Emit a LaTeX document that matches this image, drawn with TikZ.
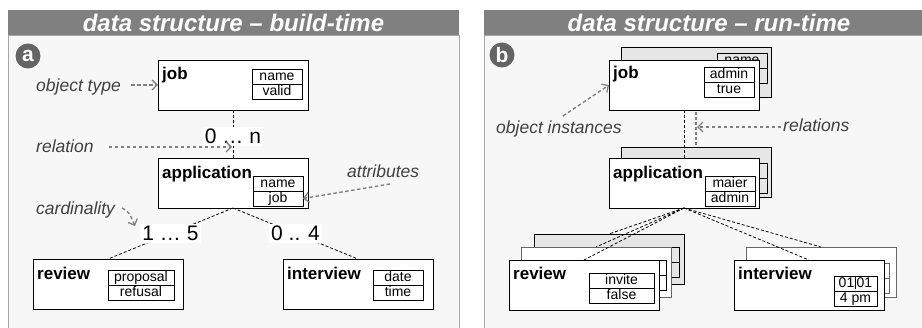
\documentclass[tikz,border=0pt]{standalone}
\usepackage{fontspec}
\setmainfont{Liberation Sans}
\usetikzlibrary{arrows.meta}
\definecolor{hdr}{RGB}{128,128,128}
\definecolor{panelbg}{RGB}{247,247,247}
\definecolor{panelline}{RGB}{166,166,166}
\definecolor{backfill}{RGB}{230,230,230}
\definecolor{notegray}{RGB}{128,128,128}
\definecolor{notetext}{RGB}{64,64,64}
\definecolor{badgecol}{RGB}{100,100,100}
\begin{document}
\begin{tikzpicture}[x=1pt,y=-1pt,
  panel/.style={draw=panelline, line width=0.8pt, fill=panelbg},
  header/.style={fill=hdr},
  headtext/.style={text=white, inner sep=0pt, font=\fontsize{24}{24}\selectfont\bfseries\itshape},
  badge/.style={circle, fill=badgecol, minimum size=25pt, inner sep=0pt, text=white, font=\fontsize{21}{21}\selectfont\bfseries},
  objbox/.style={draw=black, line width=0.8pt, fill=white, minimum width=150pt, minimum height=50pt, anchor=north west, inner sep=0pt, outer sep=0pt},
  backbox/.style={objbox, fill=backfill},
  midbox/.style={objbox, draw=black!60},
  attrrow/.style={draw=black, line width=0.8pt, minimum width=50pt, minimum height=15pt, anchor=north west, inner sep=0pt, outer sep=0pt, text height=10.5pt, text depth=2.5pt, font=\fontsize{14}{14}\selectfont},
  objname/.style={anchor=base west, inner sep=0pt, font=\fontsize{17}{17}\selectfont\bfseries},
  note/.style={anchor=base west, inner sep=0pt, text=notetext, font=\fontsize{17.5}{17.5}\selectfont\itshape},
  notearrow/.style={draw=notegray, line width=1.4pt, dash pattern=on 3.5pt off 2.5pt, -{Straight Barb[length=5pt,width=10pt,line width=1.3pt]}},
  conn/.style={draw=black, line width=0.8pt, dash pattern=on 3pt off 2pt},
  conngray/.style={draw=notegray, line width=1.2pt, dash pattern=on 3pt off 2pt},
  cardlbl/.style={fill=white, inner sep=2pt, font=\fontsize{21}{21}\selectfont}
]
\clip (0,0) rectangle (922,328);
\fill[white] (0,0) rectangle (922,328);

% ---------- panel a ----------
\draw[panel] (8,35) rectangle (459,340);
\fill[header] (8,10) rectangle (459,35);
\node[headtext] (hdrA) at (233.5,23) {data structure – build-time};
\node[badge] (badgeA) at (28,56) {a};

\node[objbox] (jobA) at (158,60) {};
\node[objname] (jobAt) at (162,80) {job};
\node[attrrow] (jobA1) at (252,69) {name};
\node[attrrow] (jobA2) at (252,84) {valid};

\node[objbox] (appA) at (158,158) {};
\node[objname] (appAt) at (162,179) {application};
\node[attrrow] (appA1) at (253,176) {name};
\node[attrrow] (appA2) at (253,191) {job};

\node[objbox] (revA) at (33,259) {};
\node[objname] (revAt) at (37,280) {review};
\node[attrrow, minimum width=66pt] (revA1) at (108,270) {proposal};
\node[attrrow, minimum width=66pt] (revA2) at (108,285) {refusal};

\node[objbox] (intA) at (283,259) {};
\node[objname] (intAt) at (287,280) {interview};
\node[attrrow] (intA1) at (373,270) {date};
\node[attrrow] (intA2) at (373,285) {time};

\draw[conn] (jobA.south) -- node[cardlbl, pos=0.55] (cardJ) {0 … n} (appA.north);
\draw[conn] (appA.south) -- node[cardlbl] (cardR) {1 … 5} (revA.north);
\draw[conn] (appA.south) -- node[cardlbl] (cardI) {0 .. 4} (intA.north);

\node[note] (otype) at (36,92) {object type};
\draw[notearrow, shorten <=10pt] (otype.east |- jobA.west) -- (jobA.west);

\node[note] (relA) at (36,153) {relation};
\coordinate (relTipA) at (232,147);
\draw[notearrow, shorten <=15pt] (relA.east |- relTipA) -- (relTipA);

\node[note] (attrN) at (347,178) {attributes};
\coordinate (attrStart) at (390,184);
\draw[notearrow] (attrStart) -- (appA2.east);

\node[note] (cardN) at (36,215) {cardinality};
\coordinate (cardStart) at (122,208);
\coordinate (cardTip) at (135,226);
\draw[notearrow] (cardStart) .. controls (129,212) .. (cardTip);

% ---------- panel b ----------
\draw[panel] (484,35) rectangle (940,340);
\fill[header] (484,10) rectangle (940,35);
\node[headtext] (hdrB) at (709,23) {data structure – run-time};
\node[badge] (badgeB) at (502,55) {b};

% back boxes
\node[backbox] (jobB) at (621,47) {};
\node[attrrow] (jobB1) at (717,53) {name};
\node[attrrow] (jobB2) at (717,68) {};

\node[backbox] (appB) at (621,147) {};
\node[attrrow] (appB1) at (717,163) {};
\node[attrrow] (appB2) at (717,178) {};

\draw[conngray] (jobB.south) -- (appB.north);

\node[backbox] (revB) at (534,234) {};
\node[attrrow, minimum width=65pt] (revB1) at (614,247) {};
\node[attrrow, minimum width=65pt] (revB2) at (614,262) {};

\node[midbox] (revM) at (521,247) {};
\node[attrrow, minimum width=65pt] (revM1) at (601,260) {};
\node[attrrow, minimum width=65pt] (revM2) at (601,275) {};

\node[midbox] (intB) at (746,247) {};
\node[attrrow, minimum width=43pt, draw=black!60] (intB1) at (846,263) {};
\node[attrrow, minimum width=43pt, draw=black!60] (intB2) at (846,278) {};

% front boxes
\node[objbox] (jobF) at (609,60) {};
\node[objname] (jobFt) at (613,79) {job};
\node[attrrow] (jobF1) at (704,67) {admin};
\node[attrrow] (jobF2) at (704,82) {true};

\node[objbox] (appF) at (609,158) {};
\node[objname] (appFt) at (613,179) {application};
\node[attrrow] (appF1) at (705,176) {maier};
\node[attrrow] (appF2) at (705,191) {admin};

\node[objbox] (revF) at (509,260) {};
\node[objname] (revFt) at (513,280) {review};
\node[attrrow, minimum width=65pt] (revF1) at (589,273) {invite};
\node[attrrow, minimum width=65pt] (revF2) at (589,288) {false};

\node[objbox] (intF) at (734,260) {};
\node[objname] (intFt) at (738,280) {interview};
\node[attrrow, minimum width=43pt] (intF1) at (834,276) {01\kern0.3pt\rule[-1.5pt]{1.8pt}{12.5pt}\kern0.3pt01};
\node[attrrow, minimum width=43pt] (intF2) at (834,291) {4 pm};

\draw[conn] (jobF.south) -- (appF.north);
\draw[conn] (appF.south) -- (revB.north);
\draw[conn] (appF.south) -- (revM.north);
\draw[conn] (appF.south) -- (revF.north);
\draw[conn] (appF.south) -- (intB.north);
\draw[conn] (appF.south) -- (intF.north);

\node[note] (oinst) at (496,134) {object instances};
\coordinate (oiStart) at (563,116);
\draw[notearrow] (oiStart) -- (jobF.west);

\node[note] (relB) at (783,132) {relations};
\coordinate (relTipB) at (697,127);
\draw[notearrow, shorten <=2pt] (relB.west |- relTipB) -- (relTipB);
\end{tikzpicture}
\end{document}
